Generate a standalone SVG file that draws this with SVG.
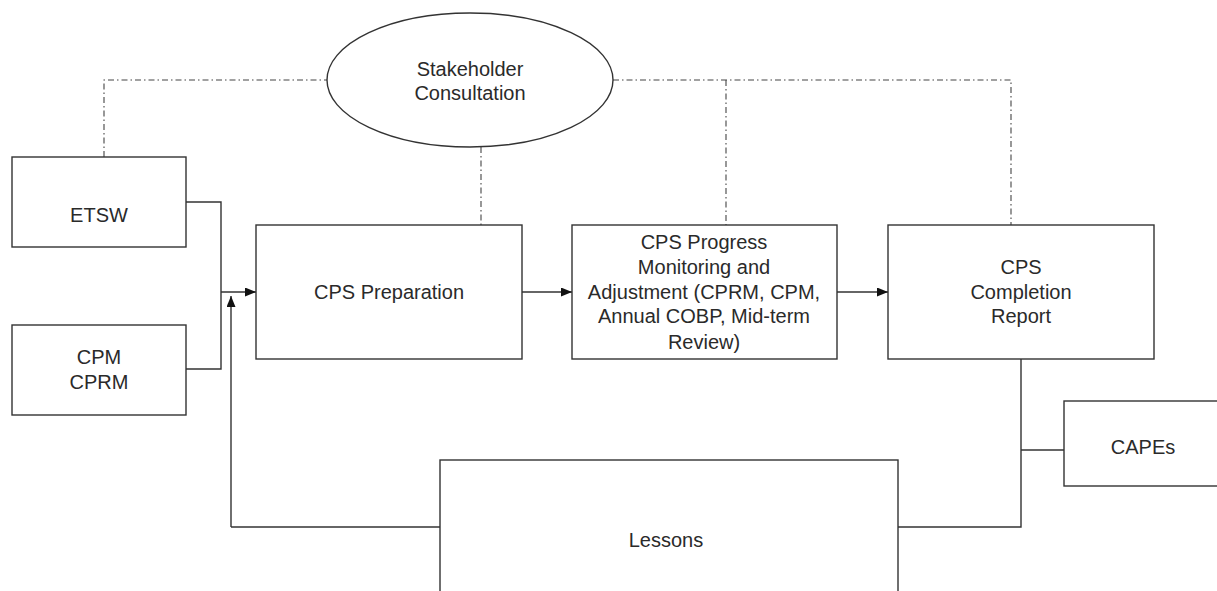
<svg xmlns="http://www.w3.org/2000/svg" width="1217" height="591" viewBox="0 0 1217 591">
<defs>
<style>
.box{fill:#fff;stroke:#333;stroke-width:1.4}
.t{font-family:"Liberation Sans",Arial,sans-serif;font-size:20px;fill:#2a2a2a;text-anchor:middle}
.ln{fill:none;stroke:#333;stroke-width:1.4}
.dd{fill:none;stroke:#444;stroke-width:1.1;stroke-dasharray:6 3 1.5 3}
</style>
<marker id="arr" viewBox="0 0 11 9" refX="11" refY="4.5" markerWidth="11" markerHeight="9" markerUnits="userSpaceOnUse" orient="auto">
<path d="M0,0 L11,4.5 L0,9 Z" fill="#111"/>
</marker>
</defs>
<rect width="1217" height="591" fill="#fff"/>
<g id="connectors">
<path class="dd" d="M104,157 V80 H327"/>
<path class="dd" d="M613,80 H1011 V225"/>
<path class="dd" d="M726,80 V225"/>
<path class="dd" d="M481,147 V225"/>
<path class="ln" d="M186,202 H221 V369 H186"/>
<path class="ln" d="M221,292 H256" marker-end="url(#arr)"/>
<path class="ln" d="M231,527 V296" marker-end="url(#arr)"/>
<path class="ln" d="M440,527 H231"/>
<path class="ln" d="M522,292 H572" marker-end="url(#arr)"/>
<path class="ln" d="M837,292 H888" marker-end="url(#arr)"/>
<path class="ln" d="M1021,359 V527 H898"/>
<path class="ln" d="M1021,450 H1064"/>
</g>
<g id="stakeholder">
<ellipse class="box" cx="470" cy="80" rx="143" ry="67"/>
<text class="t" x="470" y="76">Stakeholder</text>
<text class="t" x="470" y="100">Consultation</text>
</g>
<g id="etsw">
<rect class="box" x="12" y="157" width="174" height="90"/>
<text class="t" x="99" y="222">ETSW</text>
</g>
<g id="cpm-cprm">
<rect class="box" x="12" y="325" width="174" height="90"/>
<text class="t" x="99" y="364">CPM</text>
<text class="t" x="99" y="389">CPRM</text>
</g>
<g id="cps-preparation">
<rect class="box" x="256" y="225" width="266" height="134"/>
<text class="t" x="389" y="299">CPS Preparation</text>
</g>
<g id="cps-progress">
<rect class="box" x="572" y="225" width="265" height="134"/>
<text class="t" x="704" y="249">CPS Progress</text>
<text class="t" x="704" y="274">Monitoring and</text>
<text class="t" x="704" y="299">Adjustment (CPRM, CPM,</text>
<text class="t" x="704" y="323">Annual COBP, Mid-term</text>
<text class="t" x="704" y="349">Review)</text>
</g>
<g id="cps-completion">
<rect class="box" x="888" y="225" width="266" height="134"/>
<text class="t" x="1021" y="274">CPS</text>
<text class="t" x="1021" y="299">Completion</text>
<text class="t" x="1021" y="323">Report</text>
</g>
<g id="capes">
<rect class="box" x="1064" y="401" width="160" height="85"/>
<text class="t" x="1143" y="454">CAPEs</text>
</g>
<g id="lessons">
<rect class="box" x="440" y="460" width="458" height="140"/>
<text class="t" x="666" y="547">Lessons</text>
</g>
</svg>
